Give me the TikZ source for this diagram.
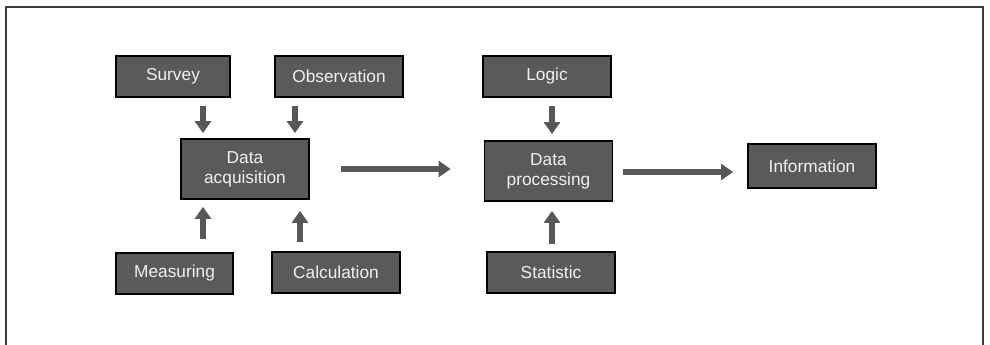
\documentclass[tikz,border=0pt]{standalone}
\usepackage{fontspec}
\setmainfont{Liberation Sans}
\usepackage{tikz}
\usetikzlibrary{positioning,arrows.meta}

\definecolor{boxgray}{RGB}{90,90,90}
\definecolor{arrowgray}{RGB}{88,88,88}
\definecolor{framegray}{RGB}{60,60,60}

\tikzset{
  box/.style={draw=black, line width=1.8pt, fill=boxgray, text=white!94!black,
    minimum width=128pt, minimum height=41pt, inner sep=0pt, align=center,
    font=\fontsize{17.3pt}{20pt}\selectfont},
  blk/.style={draw=arrowgray, line width=5.5pt,
    -{Triangle[length=12pt,width=16pt]}},
}

\begin{document}
\begin{tikzpicture}[x=1pt, y=-1pt]

        \useasboundingbox (0,0) rectangle (990,345);

        % frame (open at the bottom)
        \draw[framegray, line width=1.4pt] (6,345) -- (6,7) -- (983,7) -- (983,345);

        % acquisition side
        \node[box, minimum width=114pt] (survey) at (173,76.5) {Survey};
        \node[box] (observ) at (339,76.5) {Observation};
        \node[box, minimum height=60pt] (acq) at (245,169) {Data\\acquisition};
        \node[box, minimum width=117pt] (measure) at (174.5,273.5) {Measuring};
        \node[box] (calc) at (336,272.5) {Calculation};

        % processing side
        \node[box] (logic) at (547,76.5) {Logic};
        \node[box, minimum height=60pt] (proc) at (548.5,171) {Data\\processing};
        \node[box] (stat) at (551,272.5) {Statistic};

        % result
        \node[box, minimum height=44pt] (info) at (812,166) {Information};

        % inputs into acquisition
        \draw[blk, shorten <=8pt, shorten >=5pt] ([xshift=30pt]survey.south) -- ([xshift=30pt]survey.south |- acq.north);
        \draw[blk, shorten <=8pt, shorten >=5pt] ([xshift=-44pt]observ.south) -- ([xshift=-44pt]observ.south |- acq.north);
        \draw[blk, shorten <=13pt, shorten >=7pt] ([xshift=28.5pt]measure.north) -- ([xshift=28.5pt]measure.north |- acq.south);
        \draw[blk, shorten <=9pt, shorten >=11pt] ([xshift=-36pt]calc.north) -- ([xshift=-36pt]calc.north |- acq.south);

        % inputs into processing
        \draw[blk, shorten <=8pt, shorten >=6pt] ([xshift=5pt]logic.south) -- ([xshift=5pt]logic.south |- proc.north);
        \draw[blk, shorten <=7pt, shorten >=9pt] ([xshift=1pt]stat.north) -- ([xshift=1pt]stat.north |- proc.south);

        % main flow
        \draw[blk, shorten <=31pt, shorten >=33pt] (acq.east) -- (acq.east -| proc.west);
        \draw[blk, shorten <=10pt, shorten >=14pt] ([yshift=-1pt]proc.east) -- ([yshift=-1pt]proc.east -| info.west);

    \end{tikzpicture}
\end{document}
